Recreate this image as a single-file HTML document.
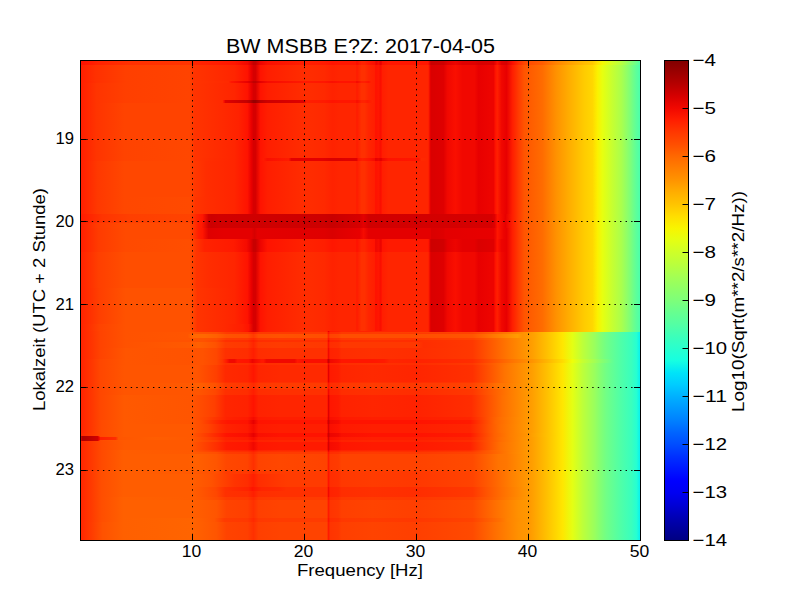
<!DOCTYPE html>
<html><head><meta charset="utf-8"><style>
html,body{margin:0;padding:0;background:#fff;width:800px;height:600px;overflow:hidden;position:relative;}
svg{display:block;position:absolute;left:0;top:0;}
#sp{position:absolute;left:80px;top:60px;width:560px;height:480px;overflow:hidden;}
#sp div{position:absolute;left:0;width:560px;}
text{font-family:"Liberation Sans",sans-serif;font-size:16.7px;fill:#000;}
</style></head><body>
<div id="sp">
<div style="top:0px;height:5px;background:linear-gradient(90deg,#ff1300 0.5px,#ff1300 4.5px,#ff2200 17.5px,#ff3000 49.5px,#ff3400 109.5px,#ff2500 113.5px,#ff1600 154.5px,#f10800 167.5px,#d60000 171.5px,#c40000 173.5px,#c40000 175.5px,#ed0400 180.5px,#fa0f00 187.5px,#ff1e00 225.5px,#ff1a00 244.5px,#ff1300 252.5px,#ff1600 259.5px,#ff1600 275.5px,#fa0f00 276.5px,#fa0f00 277.5px,#ff2200 281.5px,#ff2200 284.5px,#ff1600 288.5px,#fa0f00 294.5px,#f10800 295.5px,#ed0400 296.5px,#f60b00 298.5px,#e80000 300.5px,#ed0400 301.5px,#fa0f00 302.5px,#ff1600 308.5px,#ff1600 344.5px,#ff1600 347.5px,#fa0f00 348.5px,#d10000 350.5px,#c80000 351.5px,#cd0000 363.5px,#df0000 367.5px,#ed0400 375.5px,#df0000 382.5px,#df0000 394.5px,#d60000 398.5px,#da0000 410.5px,#da0000 413.5px,#ed0400 415.5px,#f60b00 416.5px,#fa0f00 417.5px,#df0000 421.5px,#d60000 426.5px,#fa0f00 432.5px,#ff2d00 438.5px,#ff4700 444.5px,#ff5d00 462.5px,#ff8200 476.0px,#ff9f00 489.5px,#ffbd00 504.5px,#ffc800 512.5px,#ffe200 517.5px,#f4f802 522.5px,#d4ff23 532.0px,#b7ff40 541.5px,#a4ff53 545.5px,#8dff6a 549.5px,#7aff7d 553.5px,#63ff94 557.5px,#53ffa4 559.5px)"></div>
<div style="top:5px;height:16px;background:linear-gradient(90deg,#ff1e00 0.5px,#ff3000 15.5px,#ff3f00 45.5px,#ff4300 109.5px,#ff3400 113.5px,#ff2500 154.5px,#ff1300 167.5px,#e80000 171.5px,#d60000 173.5px,#d60000 175.5px,#ff1300 180.5px,#ff1e00 187.5px,#ff2d00 225.5px,#ff2900 244.5px,#ff2200 252.5px,#ff2500 259.5px,#ff2500 275.5px,#ff1e00 276.5px,#ff1e00 277.5px,#ff3000 281.5px,#ff3000 284.5px,#ff2500 288.5px,#ff1e00 294.5px,#ff1300 295.5px,#ff1300 296.5px,#ff1600 298.5px,#fa0f00 300.5px,#ff1300 301.5px,#ff1e00 302.5px,#ff2500 308.5px,#ff2500 344.5px,#ff2500 347.5px,#ff1e00 348.5px,#e40000 350.5px,#da0000 351.5px,#df0000 363.5px,#f10800 367.5px,#fa0f00 375.5px,#f10800 382.5px,#f10800 394.5px,#e80000 398.5px,#ed0400 410.5px,#ed0400 413.5px,#ff1300 415.5px,#ff1a00 416.5px,#ff1e00 417.5px,#f10800 421.5px,#e80000 426.5px,#ff1e00 432.5px,#ff3b00 438.5px,#ff5500 444.5px,#ff6c00 462.5px,#ff9100 476.0px,#ffae00 489.5px,#ffcc00 504.5px,#ffd700 512.5px,#fbf100 517.5px,#e7ff0f 522.5px,#c7ff30 532.0px,#aaff4d 541.5px,#94ff63 546.0px,#7dff7a 550.5px,#63ff94 555.0px,#4dffaa 559.5px)"></div>
<div style="top:21px;height:2px;background:linear-gradient(90deg,#ff1e00 0.5px,#ff3000 16.5px,#ff3f00 46.5px,#ff4300 109.5px,#ff3400 113.5px,#ff2900 148.5px,#ff1600 151.5px,#e80000 167.5px,#d10000 171.5px,#bf0000 173.5px,#bf0000 175.5px,#e40000 180.5px,#f60b00 187.5px,#ff1a00 225.5px,#ff1600 244.5px,#fa0f00 252.5px,#ff1300 259.5px,#ff1300 275.5px,#f60b00 276.5px,#f60b00 277.5px,#ff1e00 281.5px,#ff1e00 284.5px,#ff1300 288.5px,#ff2200 291.5px,#ff1e00 294.5px,#ff1300 295.5px,#ff1300 296.5px,#ff1600 298.5px,#fa0f00 300.5px,#ff1300 301.5px,#ff1e00 302.5px,#ff2500 308.5px,#ff2500 344.5px,#ff2500 347.5px,#ff1e00 348.5px,#e40000 350.5px,#da0000 351.5px,#df0000 363.5px,#f10800 367.5px,#fa0f00 375.5px,#f10800 382.5px,#f10800 394.5px,#e80000 398.5px,#ed0400 410.5px,#ed0400 413.5px,#ff1300 415.5px,#ff1a00 416.5px,#ff1e00 417.5px,#f10800 421.5px,#e80000 426.5px,#ff1e00 432.5px,#ff3b00 438.5px,#ff5500 444.5px,#ff6c00 462.5px,#ff9100 476.0px,#ffae00 489.5px,#ffcc00 504.5px,#ffd700 512.5px,#fbf100 517.5px,#e7ff0f 522.5px,#c7ff30 532.0px,#aaff4d 541.5px,#94ff63 546.0px,#7dff7a 550.5px,#63ff94 555.0px,#4dffaa 559.5px)"></div>
<div style="top:23px;height:17px;background:linear-gradient(90deg,#ff1e00 0.5px,#ff3400 16.5px,#ff3f00 45.5px,#ff4300 109.5px,#ff3400 113.5px,#ff2500 154.5px,#ff1300 167.5px,#e80000 171.5px,#d60000 173.5px,#d60000 175.5px,#ff1300 180.5px,#ff1e00 187.5px,#ff2d00 225.5px,#ff2900 244.5px,#ff2200 252.5px,#ff2500 259.5px,#ff2500 275.5px,#ff1e00 276.5px,#ff1e00 277.5px,#ff3000 281.5px,#ff3000 284.5px,#ff2500 288.5px,#ff1e00 294.5px,#ff1300 295.5px,#ff1300 296.5px,#ff1600 298.5px,#fa0f00 300.5px,#ff1300 301.5px,#ff1e00 302.5px,#ff2500 308.5px,#ff2500 344.5px,#ff2500 347.5px,#ff1e00 348.5px,#e40000 350.5px,#da0000 351.5px,#df0000 363.5px,#f10800 367.5px,#fa0f00 375.5px,#f10800 382.5px,#f10800 394.5px,#e80000 398.5px,#ed0400 410.5px,#ed0400 413.5px,#ff1300 415.5px,#ff1a00 416.5px,#ff1e00 417.5px,#f10800 421.5px,#e80000 426.5px,#ff1e00 432.5px,#ff3b00 438.5px,#ff5500 444.5px,#ff6c00 462.5px,#ff9100 476.0px,#ffae00 489.5px,#ffcc00 504.5px,#ffd700 512.5px,#fbf100 517.5px,#e7ff0f 522.5px,#c7ff30 532.0px,#aaff4d 541.5px,#94ff63 546.0px,#7dff7a 550.5px,#63ff94 555.0px,#4dffaa 559.5px)"></div>
<div style="top:40px;height:3px;background:linear-gradient(90deg,#ff1e00 0.5px,#ff3400 16.5px,#ff3f00 45.5px,#ff4300 109.5px,#ff3400 114.5px,#ff2900 142.5px,#fa0f00 144.0px,#df0000 145.5px,#c40000 166.5px,#b20000 170.5px,#960000 173.5px,#960000 175.5px,#bb0000 180.5px,#cd0000 187.5px,#df0000 223.5px,#ff1e00 226.5px,#ff1a00 244.5px,#ff1300 252.5px,#ff1600 259.5px,#ff1600 275.5px,#fa0f00 276.5px,#fa0f00 277.5px,#ff2200 281.5px,#ff2200 284.5px,#ff1a00 287.5px,#ff2200 292.5px,#ff1e00 294.5px,#ff1300 295.5px,#ff1300 296.5px,#ff1600 298.5px,#fa0f00 300.5px,#ff1300 301.5px,#ff1e00 302.5px,#ff2500 308.5px,#ff2500 344.5px,#ff2500 347.5px,#ff1e00 348.5px,#e40000 350.5px,#da0000 351.5px,#df0000 363.5px,#f10800 367.5px,#fa0f00 375.5px,#f10800 382.5px,#f10800 394.5px,#e80000 398.5px,#ed0400 410.5px,#ed0400 413.5px,#ff1300 415.5px,#ff1a00 416.5px,#ff1e00 417.5px,#f10800 421.5px,#e80000 426.5px,#ff1e00 432.5px,#ff3b00 438.5px,#ff5500 444.5px,#ff6c00 462.5px,#ff9100 476.0px,#ffae00 489.5px,#ffcc00 504.5px,#ffd700 512.5px,#fbf100 517.5px,#e7ff0f 522.5px,#c7ff30 532.0px,#aaff4d 541.5px,#94ff63 546.0px,#7dff7a 550.5px,#63ff94 555.0px,#4dffaa 559.5px)"></div>
<div style="top:43px;height:36px;background:linear-gradient(90deg,#ff1e00 0.5px,#ff3400 16.5px,#ff4300 44.5px,#ff4300 109.5px,#ff3400 114.5px,#ff2900 143.5px,#ff2200 158.5px,#ff1300 167.5px,#e80000 171.5px,#d60000 173.5px,#d60000 175.5px,#ff1300 180.5px,#ff1e00 187.5px,#ff2d00 225.5px,#ff2900 244.5px,#ff2200 252.5px,#ff2500 259.5px,#ff2500 275.5px,#ff1e00 276.5px,#ff1e00 277.5px,#ff3000 281.5px,#ff3000 284.5px,#ff2500 288.5px,#ff1e00 294.5px,#ff1300 295.5px,#ff1300 296.5px,#ff1600 298.5px,#fa0f00 300.5px,#ff1300 301.5px,#ff1e00 302.5px,#ff2500 308.5px,#ff2500 344.5px,#ff2500 347.5px,#ff1e00 348.5px,#e40000 350.5px,#da0000 351.5px,#df0000 363.5px,#f10800 367.5px,#fa0f00 375.5px,#f10800 382.5px,#f10800 394.5px,#e80000 398.5px,#ed0400 410.5px,#ed0400 413.5px,#ff1300 415.5px,#ff1a00 416.5px,#ff1e00 417.5px,#f10800 421.5px,#e80000 426.5px,#ff1e00 432.5px,#ff3b00 438.5px,#ff5500 444.5px,#ff6c00 462.5px,#ff9100 476.0px,#ffae00 489.5px,#ffcc00 504.5px,#ffd700 512.5px,#fbf100 517.5px,#e7ff0f 522.5px,#c7ff30 532.0px,#aaff4d 541.5px,#94ff63 546.0px,#7dff7a 550.5px,#63ff94 555.0px,#4dffaa 559.5px)"></div>
<div style="top:79px;height:19px;background:linear-gradient(90deg,#ff1e00 0.5px,#ff3400 16.5px,#ff4300 44.5px,#ff4700 109.5px,#ff3400 114.5px,#ff2d00 132.5px,#ff2500 154.5px,#ff1300 167.5px,#e80000 171.5px,#d60000 173.5px,#d60000 175.5px,#ff1300 180.5px,#ff1e00 187.5px,#ff2d00 225.5px,#ff2900 244.5px,#ff2200 252.5px,#ff2500 259.5px,#ff2500 275.5px,#ff1e00 276.5px,#ff1e00 277.5px,#ff3000 281.5px,#ff3000 284.5px,#ff2500 288.5px,#ff1e00 294.5px,#ff1300 295.5px,#ff1300 296.5px,#ff1600 298.5px,#fa0f00 300.5px,#ff1300 301.5px,#ff1e00 302.5px,#ff2500 308.5px,#ff2500 344.5px,#ff2500 347.5px,#ff1e00 348.5px,#e40000 350.5px,#da0000 351.5px,#df0000 363.5px,#f10800 367.5px,#fa0f00 375.5px,#f10800 382.5px,#f10800 394.5px,#e80000 398.5px,#ed0400 410.5px,#ed0400 413.5px,#ff1300 415.5px,#ff1a00 416.5px,#ff1e00 417.5px,#f10800 421.5px,#e80000 426.5px,#ff1e00 432.5px,#ff3b00 438.5px,#ff5500 444.5px,#ff6c00 462.5px,#ff9100 476.0px,#ffae00 489.5px,#ffcc00 504.5px,#ffd700 512.5px,#fbf100 517.5px,#e7ff0f 522.5px,#c7ff30 532.0px,#aaff4d 541.5px,#94ff63 546.0px,#7dff7a 550.5px,#63ff94 555.0px,#4dffaa 559.5px)"></div>
<div style="top:98px;height:3px;background:linear-gradient(90deg,#ff1e00 0.5px,#ff3400 16.5px,#ff4300 44.5px,#ff4700 109.5px,#ff3400 114.5px,#ff2d00 129.5px,#ff2500 154.5px,#ff1300 167.5px,#e80000 171.5px,#d60000 173.5px,#d60000 175.5px,#ff1300 180.5px,#ff1a00 183.5px,#fa0f00 187.5px,#ff1a00 208.5px,#e40000 211.5px,#e40000 242.5px,#da0000 250.5px,#da0000 258.5px,#df0000 265.5px,#df0000 276.5px,#ff1300 278.5px,#ff1e00 282.5px,#ff1300 289.5px,#f60b00 294.5px,#e80000 295.5px,#e80000 296.5px,#ed0400 298.5px,#e40000 300.5px,#e80000 301.5px,#f10800 302.5px,#ff1300 308.5px,#ff1600 338.5px,#ff2900 341.5px,#ff2500 347.5px,#ff1e00 348.5px,#e40000 350.5px,#da0000 351.5px,#df0000 363.5px,#f10800 367.5px,#fa0f00 375.5px,#f10800 382.5px,#f10800 394.5px,#e80000 398.5px,#ed0400 410.5px,#ed0400 413.5px,#ff1300 415.5px,#ff1a00 416.5px,#ff1e00 417.5px,#f10800 421.5px,#e80000 426.5px,#ff1e00 432.5px,#ff3b00 438.5px,#ff5500 444.5px,#ff6c00 462.5px,#ff9100 476.0px,#ffae00 489.5px,#ffcc00 504.5px,#ffd700 512.5px,#fbf100 517.5px,#e7ff0f 522.5px,#c7ff30 532.0px,#aaff4d 541.5px,#94ff63 546.0px,#7dff7a 550.5px,#63ff94 555.0px,#4dffaa 559.5px)"></div>
<div style="top:101px;height:36px;background:linear-gradient(90deg,#ff1e00 0.5px,#ff3800 17.5px,#ff4700 44.5px,#ff4700 109.5px,#ff3800 114.5px,#ff2d00 126.5px,#ff2500 154.5px,#ff1300 167.5px,#e80000 171.5px,#d60000 173.5px,#d60000 175.5px,#ff1300 180.5px,#ff1e00 187.5px,#ff2d00 225.5px,#ff2900 244.5px,#ff2200 252.5px,#ff2500 259.5px,#ff2500 275.5px,#ff1e00 276.5px,#ff1e00 277.5px,#ff3000 281.5px,#ff3000 284.5px,#ff2500 288.5px,#ff1e00 294.5px,#ff1300 295.5px,#ff1300 296.5px,#ff1600 298.5px,#fa0f00 300.5px,#ff1300 301.5px,#ff1e00 302.5px,#ff2500 308.5px,#ff2500 344.5px,#ff2500 347.5px,#ff1e00 348.5px,#e40000 350.5px,#da0000 351.5px,#df0000 363.5px,#f10800 367.5px,#fa0f00 375.5px,#f10800 382.5px,#f10800 394.5px,#e80000 398.5px,#ed0400 410.5px,#ed0400 413.5px,#ff1300 415.5px,#ff1a00 416.5px,#ff1e00 417.5px,#f10800 421.5px,#e80000 426.5px,#ff1e00 432.5px,#ff3b00 438.5px,#ff5500 444.5px,#ff6c00 462.5px,#ff9100 476.0px,#ffae00 489.5px,#ffcc00 504.5px,#ffd700 512.5px,#fbf100 517.5px,#e7ff0f 522.5px,#c7ff30 532.0px,#aaff4d 541.5px,#94ff63 546.0px,#7dff7a 550.5px,#63ff94 555.0px,#4dffaa 559.5px)"></div>
<div style="top:137px;height:17px;background:linear-gradient(90deg,#ff1e00 0.5px,#ff3800 17.5px,#ff4700 44.5px,#ff4a00 109.5px,#ff3400 115.5px,#ff2d00 127.5px,#ff2500 154.5px,#ff1300 167.5px,#e80000 171.5px,#d60000 173.5px,#d60000 175.5px,#ff1300 180.5px,#ff1e00 187.5px,#ff2d00 225.5px,#ff2900 244.5px,#ff2200 252.5px,#ff2500 259.5px,#ff2500 275.5px,#ff1e00 276.5px,#ff1e00 277.5px,#ff3000 281.5px,#ff3000 284.5px,#ff2500 288.5px,#ff1e00 294.5px,#ff1300 295.5px,#ff1300 296.5px,#ff1600 298.5px,#fa0f00 300.5px,#ff1300 301.5px,#ff1e00 302.5px,#ff2500 308.5px,#ff2500 344.5px,#ff2500 347.5px,#ff1e00 348.5px,#e40000 350.5px,#da0000 351.5px,#df0000 363.5px,#f10800 367.5px,#fa0f00 375.5px,#f10800 382.5px,#f10800 394.5px,#e80000 398.5px,#ed0400 410.5px,#ed0400 413.5px,#ff1300 415.5px,#ff1a00 416.5px,#ff1e00 417.5px,#f10800 421.5px,#e80000 426.5px,#ff1e00 432.5px,#ff3b00 438.5px,#ff5500 444.5px,#ff6c00 462.5px,#ff9100 476.0px,#ffae00 489.5px,#ffcc00 504.5px,#ffd700 512.5px,#fbf100 517.5px,#e7ff0f 522.5px,#c7ff30 532.0px,#aaff4d 541.5px,#94ff63 546.0px,#7dff7a 550.5px,#63ff94 555.0px,#4dffaa 559.5px)"></div>
<div style="top:154px;height:9px;background:linear-gradient(90deg,#ff1a00 0.5px,#ff3400 22.5px,#ff3f00 50.5px,#ff4300 109.5px,#ff2500 116.5px,#ff1600 122.5px,#d10000 128.5px,#cd0000 131.5px,#d10000 138.5px,#cd0000 244.5px,#c80000 252.5px,#cd0000 259.5px,#d60000 279.5px,#e40000 283.5px,#d10000 288.5px,#d60000 411.5px,#df0000 414.5px,#ff1300 417.5px,#e80000 425.5px,#ff1e00 432.5px,#ff3b00 438.5px,#ff5500 444.5px,#ff6c00 462.5px,#ff9100 476.0px,#ffae00 489.5px,#ffcc00 504.5px,#ffd700 512.5px,#fbf100 517.5px,#e7ff0f 522.5px,#c7ff30 532.0px,#aaff4d 541.5px,#94ff63 546.0px,#7dff7a 550.5px,#63ff94 555.0px,#4dffaa 559.5px)"></div>
<div style="top:163px;height:5px;background:linear-gradient(90deg,#ff1e00 0.5px,#ff3b00 17.5px,#ff4a00 44.5px,#ff4a00 109.5px,#ff1e00 118.5px,#ff1a00 121.5px,#d10000 128.5px,#cd0000 131.5px,#d10000 138.5px,#cd0000 244.5px,#c80000 252.5px,#cd0000 259.5px,#d60000 279.5px,#e40000 283.5px,#d10000 288.5px,#d60000 411.5px,#df0000 414.5px,#ff1300 417.5px,#e80000 425.5px,#ff1e00 432.5px,#ff3b00 438.5px,#ff5500 444.5px,#ff6c00 462.5px,#ff9100 476.0px,#ffae00 489.5px,#ffcc00 504.5px,#ffd700 512.5px,#fbf100 517.5px,#e7ff0f 522.5px,#c7ff30 532.0px,#aaff4d 541.5px,#94ff63 546.0px,#7dff7a 550.5px,#63ff94 555.0px,#4dffaa 559.5px)"></div>
<div style="top:168px;height:11px;background:linear-gradient(90deg,#ff1e00 0.5px,#ff3b00 18.5px,#ff4a00 45.5px,#ff4a00 109.5px,#ff3000 114.5px,#ff1e00 118.5px,#ff1600 122.5px,#df0000 128.5px,#e40000 143.5px,#e40000 171.5px,#d60000 174.5px,#e40000 177.5px,#df0000 244.5px,#da0000 252.5px,#df0000 259.5px,#e80000 279.5px,#f60b00 283.5px,#e40000 288.5px,#e40000 350.5px,#da0000 351.5px,#df0000 363.5px,#e40000 365.5px,#e80000 413.5px,#f10800 415.5px,#ff1600 417.5px,#ed0400 423.5px,#e80000 426.5px,#ff1e00 432.5px,#ff3b00 438.5px,#ff5500 444.5px,#ff6c00 462.5px,#ff9100 476.0px,#ffae00 489.5px,#ffcc00 504.5px,#ffd700 512.5px,#fbf100 517.5px,#e7ff0f 522.5px,#c7ff30 532.0px,#aaff4d 541.5px,#94ff63 546.0px,#7dff7a 550.5px,#63ff94 555.0px,#4dffaa 559.5px)"></div>
<div style="top:179px;height:13px;background:linear-gradient(90deg,#ff1e00 0.5px,#ff3b00 18.5px,#ff4a00 45.5px,#ff4e00 109.5px,#ff3400 116.5px,#ff2200 124.5px,#ff1a00 153.5px,#f60b00 166.5px,#e40000 170.5px,#c80000 173.5px,#c80000 175.5px,#ed0400 180.5px,#ff1300 187.5px,#ff2200 225.5px,#ff1e00 244.5px,#ff1600 252.5px,#ff1a00 259.5px,#ff1a00 275.5px,#ff1300 276.5px,#ff1300 277.5px,#ff2500 281.5px,#ff2500 284.5px,#ff1a00 288.5px,#ff1300 294.5px,#f10800 295.5px,#f10800 296.5px,#f60b00 298.5px,#ed0400 300.5px,#f10800 301.5px,#ff1300 302.5px,#ff1a00 308.5px,#ff1a00 344.5px,#ff1a00 347.5px,#ff1300 348.5px,#d60000 350.5px,#cd0000 351.5px,#d10000 363.5px,#e40000 367.5px,#ed0400 375.5px,#e40000 382.5px,#e40000 394.5px,#da0000 398.5px,#df0000 410.5px,#df0000 413.5px,#f10800 415.5px,#fa0f00 416.5px,#ff1300 417.5px,#ed0400 421.5px,#e80000 426.5px,#ff1e00 432.5px,#ff3b00 438.5px,#ff5500 444.5px,#ff6c00 462.5px,#ff9100 476.0px,#ffae00 489.5px,#ffcc00 504.5px,#ffd700 512.5px,#fbf100 517.5px,#e7ff0f 522.5px,#c7ff30 532.0px,#aaff4d 541.5px,#94ff63 546.0px,#7dff7a 550.5px,#63ff94 555.0px,#4dffaa 559.5px)"></div>
<div style="top:192px;height:36px;background:linear-gradient(90deg,#ff2200 0.5px,#ff3f00 18.5px,#ff4e00 45.5px,#ff4e00 109.5px,#ff3400 116.5px,#ff2d00 128.5px,#ff2500 154.5px,#ff1300 167.5px,#e80000 171.5px,#d60000 173.5px,#d60000 175.5px,#ff1300 180.5px,#ff1e00 187.5px,#ff2d00 225.5px,#ff2900 244.5px,#ff2200 252.5px,#ff2500 259.5px,#ff2500 275.5px,#ff1e00 276.5px,#ff1e00 277.5px,#ff3000 281.5px,#ff3000 284.5px,#ff2500 288.5px,#ff1e00 294.5px,#ff1300 295.5px,#ff1300 296.5px,#ff1600 298.5px,#fa0f00 300.5px,#ff1300 301.5px,#ff1e00 302.5px,#ff2500 308.5px,#ff2500 344.5px,#ff2500 347.5px,#ff1e00 348.5px,#e40000 350.5px,#da0000 351.5px,#df0000 363.5px,#f10800 367.5px,#fa0f00 375.5px,#f10800 382.5px,#f10800 394.5px,#e80000 398.5px,#ed0400 410.5px,#ed0400 413.5px,#ff1300 415.5px,#ff1a00 416.5px,#ff1e00 417.5px,#f10800 421.5px,#e80000 426.5px,#ff1e00 432.5px,#ff3b00 438.5px,#ff5500 444.5px,#ff6c00 462.5px,#ff9100 476.0px,#ffae00 489.5px,#ffcc00 504.5px,#ffd700 512.5px,#fbf100 517.5px,#e7ff0f 522.5px,#c7ff30 532.0px,#aaff4d 541.5px,#94ff63 546.0px,#7dff7a 550.5px,#63ff94 555.0px,#4dffaa 559.5px)"></div>
<div style="top:228px;height:36px;background:linear-gradient(90deg,#ff2200 0.5px,#ff3f00 19.5px,#ff5200 45.5px,#ff5200 109.5px,#ff3400 117.5px,#ff2500 154.5px,#ff1300 167.5px,#e80000 171.5px,#d60000 173.5px,#d60000 175.5px,#ff1300 180.5px,#ff1e00 187.5px,#ff2d00 225.5px,#ff2900 244.5px,#ff2200 252.5px,#ff2500 259.5px,#ff2500 275.5px,#ff1e00 276.5px,#ff1e00 277.5px,#ff3000 281.5px,#ff3000 284.5px,#ff2500 288.5px,#ff1e00 294.5px,#ff1300 295.5px,#ff1300 296.5px,#ff1600 298.5px,#fa0f00 300.5px,#ff1300 301.5px,#ff1e00 302.5px,#ff2500 308.5px,#ff2500 344.5px,#ff2500 347.5px,#ff1e00 348.5px,#e40000 350.5px,#da0000 351.5px,#df0000 363.5px,#f10800 367.5px,#fa0f00 375.5px,#f10800 382.5px,#f10800 394.5px,#e80000 398.5px,#ed0400 410.5px,#ed0400 413.5px,#ff1300 415.5px,#ff1a00 416.5px,#ff1e00 417.5px,#f10800 421.5px,#e80000 426.5px,#ff1e00 432.5px,#ff3b00 438.5px,#ff5500 444.5px,#ff6c00 462.5px,#ff9100 476.0px,#ffae00 489.5px,#ffcc00 504.5px,#ffd700 512.5px,#fbf100 517.5px,#e7ff0f 522.5px,#c7ff30 532.0px,#aaff4d 541.5px,#94ff63 546.0px,#7dff7a 550.5px,#63ff94 555.0px,#4dffaa 559.5px)"></div>
<div style="top:264px;height:7px;background:linear-gradient(90deg,#ff2200 0.5px,#ff4300 19.5px,#ff5200 45.5px,#ff5200 109.5px,#ff3400 117.5px,#ff2900 144.5px,#ff1e00 162.5px,#ff1300 168.5px,#d60000 173.5px,#d60000 175.5px,#ff1300 180.5px,#ff1e00 187.5px,#ff2d00 225.5px,#ff2900 244.5px,#ff2200 252.5px,#ff2500 259.5px,#ff2500 275.5px,#ff1e00 276.5px,#ff1e00 277.5px,#ff3000 281.5px,#ff3000 284.5px,#ff2500 288.5px,#ff1e00 294.5px,#ff1300 295.5px,#ff1300 296.5px,#ff1600 298.5px,#fa0f00 300.5px,#ff1300 301.5px,#ff1e00 302.5px,#ff2500 308.5px,#ff2500 344.5px,#ff2500 347.5px,#ff1e00 348.5px,#e40000 350.5px,#da0000 351.5px,#df0000 363.5px,#f10800 367.5px,#fa0f00 375.5px,#f10800 382.5px,#f10800 394.5px,#e80000 398.5px,#ed0400 410.5px,#ed0400 413.5px,#ff1300 415.5px,#ff1a00 416.5px,#ff1e00 417.5px,#f10800 421.5px,#e80000 426.5px,#ff1e00 432.5px,#ff3b00 438.5px,#ff5500 444.5px,#ff6c00 462.5px,#ff9100 476.0px,#ffae00 489.5px,#ffcc00 504.5px,#ffd700 512.5px,#fbf100 517.5px,#e7ff0f 522.5px,#c7ff30 532.0px,#aaff4d 541.5px,#94ff63 546.0px,#7dff7a 550.5px,#63ff94 555.0px,#4dffaa 559.5px)"></div>
<div style="top:271px;height:1px;background:linear-gradient(90deg,#ff2200 0.5px,#ff4300 20.5px,#ff5200 45.5px,#ff5200 109.5px,#ff3400 117.5px,#ff2900 143.5px,#ff2200 158.5px,#ff1300 167.5px,#e80000 171.5px,#d60000 173.5px,#d60000 175.5px,#ff1300 180.5px,#ff1e00 187.5px,#ff2d00 225.5px,#ff2900 246.5px,#ff1a00 247.5px,#e80000 248.5px,#fa0f00 249.5px,#ff1a00 250.5px,#ff1e00 258.5px,#ff2500 261.5px,#ff2200 289.5px,#ff2500 307.5px,#ff2500 344.5px,#ff2500 347.5px,#ff1e00 348.5px,#e40000 350.5px,#da0000 351.5px,#df0000 363.5px,#f10800 367.5px,#fa0f00 375.5px,#f10800 382.5px,#f10800 394.5px,#e80000 398.5px,#ed0400 410.5px,#ed0400 413.5px,#ff1300 415.5px,#ff1a00 416.5px,#ff1e00 417.5px,#f10800 421.5px,#e80000 426.5px,#ff1e00 432.5px,#ff3b00 438.5px,#ff5500 444.5px,#ff6c00 462.5px,#ff9100 476.0px,#ffae00 489.5px,#ffcc00 504.5px,#ffd700 512.5px,#fbf100 517.5px,#e7ff0f 522.5px,#c7ff30 532.0px,#aaff4d 541.5px,#94ff63 546.0px,#7dff7a 550.5px,#63ff94 555.0px,#4dffaa 559.5px)"></div>
<div style="top:272px;height:1px;background:linear-gradient(90deg,#ff2200 0.5px,#ff4300 20.5px,#ff5200 45.5px,#ff5500 115.5px,#ff4e00 136.5px,#ff3b00 146.5px,#ff3800 167.5px,#ff2900 173.5px,#ff3800 178.5px,#ff3b00 200.5px,#ff3b00 246.5px,#ff2d00 247.5px,#ff1300 248.5px,#ff2200 249.5px,#ff2d00 250.5px,#ff3000 258.5px,#ff3800 261.5px,#ff3b00 292.5px,#ff4300 389.5px,#ff6f00 420.5px,#ff8600 436.5px,#ff9f00 452.5px,#ffc100 467.5px,#ffe600 482.5px,#e4ff13 492.5px,#beff39 502.5px,#9aff5d 514.5px,#83ff73 520.5px,#70ff87 526.5px,#53ffa4 539.0px,#39ffbe 551.5px,#26ffd1 556.5px,#0cf4eb 559.5px)"></div>
<div style="top:273px;height:1px;background:linear-gradient(90deg,#ff2200 0.5px,#ff4300 20.5px,#ff5200 45.5px,#ff5500 115.5px,#ff4e00 136.5px,#ff3b00 146.5px,#ff3800 167.5px,#ff2900 173.5px,#ff3800 178.5px,#ff3b00 200.5px,#ff3b00 246.5px,#ff2d00 247.5px,#ff1300 248.5px,#ff2200 249.5px,#ff2d00 250.5px,#ff3000 258.5px,#ff3800 261.5px,#ff3b00 292.5px,#ff3800 337.5px,#ff4300 392.5px,#ff6000 412.5px,#ff8200 432.5px,#ff9f00 452.5px,#ffc100 467.5px,#ffe600 482.5px,#e4ff13 492.5px,#beff39 502.5px,#9aff5d 514.5px,#83ff73 520.5px,#70ff87 526.5px,#53ffa4 539.0px,#39ffbe 551.5px,#26ffd1 556.5px,#0cf4eb 559.5px)"></div>
<div style="top:274px;height:4px;background:linear-gradient(90deg,#ff2200 0.5px,#ff4300 20.5px,#ff5200 45.5px,#ff5500 107.5px,#ff6800 113.5px,#ff6800 124.5px,#ff6000 136.5px,#ff5200 146.5px,#ff4e00 167.5px,#ff3b00 173.5px,#ff4e00 178.5px,#ff5200 200.5px,#ff4e00 246.5px,#ff3f00 247.5px,#ff2500 248.5px,#ff3800 249.5px,#ff4300 250.5px,#ff4700 258.5px,#ff4e00 261.5px,#ff4e00 292.5px,#ff4e00 337.5px,#ff5500 392.5px,#ff7a00 415.0px,#ff9c00 437.5px,#ff9100 442.5px,#ffa300 454.5px,#ffc400 468.5px,#ffe600 482.5px,#e4ff13 492.5px,#beff39 502.5px,#9aff5d 514.5px,#83ff73 520.5px,#70ff87 526.5px,#53ffa4 539.0px,#39ffbe 551.5px,#26ffd1 556.5px,#0cf4eb 559.5px)"></div>
<div style="top:278px;height:2px;background:linear-gradient(90deg,#ff2200 0.5px,#ff4300 20.5px,#ff5200 45.5px,#ff5500 116.5px,#ff4e00 136.5px,#ff3b00 146.5px,#ff3800 167.5px,#ff2900 173.5px,#ff3800 178.5px,#ff3b00 200.5px,#ff3b00 246.5px,#ff2d00 247.5px,#ff1300 248.5px,#ff2200 249.5px,#ff2d00 250.5px,#ff3000 258.5px,#ff3800 261.5px,#ff3b00 292.5px,#ff3800 337.5px,#ff4300 392.5px,#ff6000 412.5px,#ff8200 432.5px,#ff9f00 452.5px,#ffc100 467.5px,#ffe600 482.5px,#e4ff13 492.5px,#beff39 502.5px,#9aff5d 514.5px,#83ff73 520.5px,#70ff87 526.5px,#53ffa4 539.0px,#39ffbe 551.5px,#26ffd1 556.5px,#0cf4eb 559.5px)"></div>
<div style="top:280px;height:2px;background:linear-gradient(90deg,#ff2200 0.5px,#ff4300 20.5px,#ff5200 45.5px,#ff5200 122.5px,#ff4700 136.5px,#ff3000 145.5px,#ff2d00 167.5px,#ff1e00 173.5px,#ff2d00 178.5px,#ff3000 200.5px,#ff3000 246.5px,#ff2200 247.5px,#f10800 248.5px,#ff1600 249.5px,#ff2200 250.5px,#ff2500 258.5px,#ff2d00 261.5px,#ff3000 292.5px,#ff2d00 337.5px,#ff3800 392.5px,#ff5900 411.0px,#ff7a00 429.5px,#ff9f00 452.5px,#ffc100 467.5px,#ffe600 482.5px,#e4ff13 492.5px,#beff39 502.5px,#9aff5d 514.5px,#83ff73 520.5px,#70ff87 526.5px,#53ffa4 539.0px,#39ffbe 551.5px,#26ffd1 556.5px,#0cf4eb 559.5px)"></div>
<div style="top:282px;height:6px;background:linear-gradient(90deg,#ff2200 0.5px,#ff4300 20.5px,#ff5200 45.5px,#ff5900 109.5px,#ff6000 118.5px,#ff5200 135.5px,#ff3b00 145.5px,#ff3800 167.5px,#ff2500 173.5px,#ff3800 178.5px,#ff3b00 200.5px,#ff3800 246.5px,#ff2900 247.5px,#fa0f00 248.5px,#ff2200 249.5px,#ff2d00 250.5px,#ff3000 258.5px,#ff3800 261.5px,#ff3800 292.5px,#ff3800 336.5px,#ff2d00 343.5px,#ff3800 392.5px,#ff5900 411.0px,#ff7a00 429.5px,#ff9f00 452.5px,#ffc100 467.5px,#ffe600 482.5px,#e4ff13 492.5px,#beff39 502.5px,#9aff5d 514.5px,#83ff73 520.5px,#70ff87 526.5px,#53ffa4 539.0px,#39ffbe 551.5px,#26ffd1 556.5px,#0cf4eb 559.5px)"></div>
<div style="top:288px;height:11px;background:linear-gradient(90deg,#ff2200 0.5px,#ff4300 20.5px,#ff5500 45.5px,#ff5200 122.5px,#ff4700 136.5px,#ff3000 145.5px,#ff2d00 167.5px,#ff1e00 173.5px,#ff2d00 178.5px,#ff3000 200.5px,#ff3000 246.5px,#ff2200 247.5px,#f10800 248.5px,#ff1600 249.5px,#ff2200 250.5px,#ff2500 258.5px,#ff2d00 261.5px,#ff3000 292.5px,#ff2d00 337.5px,#ff3800 392.5px,#ff5900 411.0px,#ff7a00 429.5px,#ff9f00 452.5px,#ffc100 467.5px,#ffe600 482.5px,#e4ff13 492.5px,#beff39 502.5px,#9aff5d 514.5px,#83ff73 520.5px,#70ff87 526.5px,#53ffa4 539.0px,#39ffbe 551.5px,#26ffd1 556.5px,#0cf4eb 559.5px)"></div>
<div style="top:299px;height:4px;background:linear-gradient(90deg,#ff2200 0.5px,#ff4700 20.5px,#ff5500 45.5px,#ff5200 122.5px,#ff4700 136.5px,#ff3400 142.5px,#ff1a00 146.5px,#f10800 149.5px,#f10800 154.5px,#ff1600 157.5px,#ff1300 168.5px,#ed0400 172.5px,#f60b00 175.5px,#ff1600 181.5px,#ff1600 183.5px,#f10800 186.5px,#f10800 214.5px,#ff1600 217.5px,#fa0f00 223.5px,#fa0f00 246.5px,#e80000 247.5px,#c80000 248.5px,#f10800 250.5px,#fa0f00 258.5px,#ff1600 261.5px,#ff1600 292.5px,#ff1a00 304.5px,#ff2500 309.5px,#ff2200 337.5px,#ff2d00 392.5px,#ff4e00 411.0px,#ff6f00 429.5px,#ff9400 452.5px,#ffb600 467.5px,#ffdb00 482.5px,#eeff09 492.5px,#c7ff30 502.5px,#a4ff53 514.5px,#8dff6a 520.5px,#7aff7d 526.5px,#5dff9a 534.5px,#39ffbe 551.5px,#26ffd1 556.5px,#0cf4eb 559.5px)"></div>
<div style="top:303px;height:2px;background:linear-gradient(90deg,#ff2200 0.5px,#ff4700 20.5px,#ff5500 45.5px,#ff5200 122.5px,#ff4700 136.5px,#ff3000 145.5px,#ff2d00 167.5px,#ff1e00 173.5px,#ff2d00 178.5px,#ff3000 200.5px,#ff3000 246.5px,#ff2200 247.5px,#f10800 248.5px,#ff1600 249.5px,#ff2200 250.5px,#ff2500 258.5px,#ff2d00 261.5px,#ff3000 292.5px,#ff2d00 337.5px,#ff3800 392.5px,#ff5900 411.0px,#ff7a00 429.5px,#ff9f00 452.5px,#ffc100 467.5px,#ffe600 482.5px,#e4ff13 492.5px,#beff39 502.5px,#9aff5d 514.5px,#83ff73 520.5px,#70ff87 526.5px,#53ffa4 539.0px,#39ffbe 551.5px,#26ffd1 556.5px,#0cf4eb 559.5px)"></div>
<div style="top:305px;height:17px;background:linear-gradient(90deg,#ff2200 0.5px,#ff4700 20.5px,#ff5500 44.5px,#ff5500 116.5px,#ff3f00 136.5px,#ff2900 145.5px,#ff2500 167.5px,#ff1600 173.5px,#ff2500 178.5px,#ff2900 200.5px,#ff2900 246.5px,#ff1a00 247.5px,#e40000 248.5px,#fa0f00 249.5px,#ff1a00 250.5px,#ff1e00 258.5px,#ff2500 261.5px,#ff2900 292.5px,#ff2500 337.5px,#ff3000 392.5px,#ff5500 410.5px,#ff7300 424.5px,#ff9f00 452.5px,#ffc100 467.5px,#ffe600 482.5px,#e4ff13 492.5px,#beff39 502.5px,#9aff5d 514.5px,#83ff73 520.5px,#70ff87 526.5px,#53ffa4 539.0px,#39ffbe 551.5px,#26ffd1 556.5px,#0cf4eb 559.5px)"></div>
<div style="top:322px;height:1px;background:linear-gradient(90deg,#ff2200 0.5px,#ff4700 20.5px,#ff5500 44.5px,#ff5500 119.5px,#ff4700 135.5px,#ff3000 145.5px,#ff2d00 167.5px,#ff1e00 173.5px,#ff2d00 178.5px,#ff3000 200.5px,#ff3000 246.5px,#ff2200 247.5px,#f10800 248.5px,#ff1600 249.5px,#ff2200 250.5px,#ff2500 258.5px,#ff2d00 261.5px,#ff3000 292.5px,#ff2d00 337.5px,#ff3800 392.5px,#ff5900 411.0px,#ff7a00 429.5px,#ff9f00 452.5px,#ffc100 467.5px,#ffe600 482.5px,#e4ff13 492.5px,#beff39 502.5px,#9aff5d 514.5px,#83ff73 520.5px,#70ff87 526.5px,#53ffa4 539.0px,#39ffbe 551.5px,#26ffd1 556.5px,#0cf4eb 559.5px)"></div>
<div style="top:323px;height:6px;background:linear-gradient(90deg,#ff2200 0.5px,#ff4700 20.5px,#ff5500 44.5px,#ff5900 108.5px,#ff6000 117.5px,#ff5200 135.5px,#ff3b00 145.5px,#ff3800 167.5px,#ff2900 173.5px,#ff3800 178.5px,#ff3b00 200.5px,#ff3b00 246.5px,#ff2d00 247.5px,#ff1300 248.5px,#ff2200 249.5px,#ff2d00 250.5px,#ff3000 258.5px,#ff3800 261.5px,#ff3b00 292.5px,#ff3800 337.5px,#ff4300 392.5px,#ff5900 405.5px,#ff7300 418.5px,#ff7700 425.5px,#ff9f00 452.5px,#ffc100 467.5px,#ffe600 482.5px,#e4ff13 492.5px,#beff39 502.5px,#9aff5d 514.5px,#83ff73 520.5px,#70ff87 526.5px,#53ffa4 539.0px,#39ffbe 551.5px,#26ffd1 556.5px,#0cf4eb 559.5px)"></div>
<div style="top:329px;height:6px;background:linear-gradient(90deg,#ff2200 0.5px,#ff4700 20.5px,#ff5500 44.5px,#ff5500 118.5px,#ff4700 135.5px,#ff3000 145.5px,#ff2d00 167.5px,#ff1e00 173.5px,#ff2d00 178.5px,#ff3000 200.5px,#ff3000 246.5px,#ff2200 247.5px,#f10800 248.5px,#ff1600 249.5px,#ff2200 250.5px,#ff2500 258.5px,#ff2d00 261.5px,#ff3000 292.5px,#ff2d00 337.5px,#ff3800 392.5px,#ff5900 411.0px,#ff7a00 429.5px,#ff9f00 452.5px,#ffc100 467.5px,#ffe600 482.5px,#e4ff13 492.5px,#beff39 502.5px,#9aff5d 514.5px,#83ff73 520.5px,#70ff87 526.5px,#53ffa4 539.0px,#39ffbe 551.5px,#26ffd1 556.5px,#0cf4eb 559.5px)"></div>
<div style="top:335px;height:22px;background:linear-gradient(90deg,#ff2200 0.5px,#ff4700 20.5px,#ff5900 44.5px,#ff5500 110.5px,#ff3f00 134.5px,#ff2500 145.5px,#ff2200 167.5px,#ff1300 173.5px,#ff2200 178.5px,#ff2500 200.5px,#ff2500 246.5px,#ff1600 247.5px,#df0000 248.5px,#f60b00 249.5px,#ff1600 250.5px,#ff1a00 258.5px,#ff2200 261.5px,#ff2500 292.5px,#ff2200 337.5px,#ff2d00 391.5px,#ff4e00 407.0px,#ff6f00 422.5px,#ff9f00 452.5px,#ffc100 467.5px,#ffe600 482.5px,#e4ff13 492.5px,#beff39 502.5px,#9aff5d 514.5px,#83ff73 520.5px,#70ff87 526.5px,#53ffa4 539.0px,#39ffbe 551.5px,#26ffd1 556.5px,#0cf4eb 559.5px)"></div>
<div style="top:357px;height:3px;background:linear-gradient(90deg,#ff2200 0.5px,#ff4700 20.5px,#ff5900 44.5px,#ff5500 110.5px,#ff4300 126.5px,#ff3000 138.5px,#ff2200 146.5px,#ff1a00 167.5px,#f60b00 173.5px,#ff1a00 178.5px,#ff1e00 200.5px,#ff1e00 246.5px,#fa0f00 247.5px,#da0000 248.5px,#f10800 249.5px,#fa0f00 250.5px,#ff1300 258.5px,#ff1a00 261.5px,#ff1e00 292.5px,#ff1e00 337.5px,#ff2500 390.5px,#ff3b00 400.2px,#ff5500 409.8px,#ff6c00 419.5px,#ff8600 436.0px,#ff9f00 452.5px,#ffc100 467.5px,#ffe600 482.5px,#e4ff13 492.5px,#beff39 502.5px,#9aff5d 514.5px,#83ff73 520.5px,#70ff87 526.5px,#53ffa4 539.0px,#39ffbe 551.5px,#26ffd1 556.5px,#0cf4eb 559.5px)"></div>
<div style="top:360px;height:4px;background:linear-gradient(90deg,#ff2200 0.5px,#ff4a00 21.5px,#ff5900 44.5px,#ff5500 110.5px,#ff4e00 119.5px,#ff1e00 141.5px,#ff1600 147.5px,#ff1300 167.5px,#e80000 173.5px,#ff1300 178.5px,#ff1600 200.5px,#ff1600 246.5px,#ed0400 247.5px,#cd0000 248.5px,#e40000 249.5px,#f10800 250.5px,#f60b00 258.5px,#ff1300 261.5px,#ff1300 292.5px,#ff1300 337.5px,#ff1a00 390.5px,#ff3b00 401.5px,#ff6400 415.5px,#ff8200 434.0px,#ff9f00 452.5px,#ffc100 467.5px,#ffe600 482.5px,#e4ff13 492.5px,#beff39 502.5px,#9aff5d 514.5px,#83ff73 520.5px,#70ff87 526.5px,#53ffa4 539.0px,#39ffbe 551.5px,#26ffd1 556.5px,#0cf4eb 559.5px)"></div>
<div style="top:364px;height:9px;background:linear-gradient(90deg,#ff2200 0.5px,#ff4a00 21.5px,#ff5900 44.5px,#ff5900 110.5px,#ff4300 128.5px,#ff2d00 139.5px,#ff2200 146.5px,#ff1a00 167.5px,#f60b00 173.5px,#ff1a00 178.5px,#ff1e00 200.5px,#ff1e00 246.5px,#fa0f00 247.5px,#da0000 248.5px,#f10800 249.5px,#fa0f00 250.5px,#ff1300 258.5px,#ff1a00 261.5px,#ff1e00 292.5px,#ff1e00 337.5px,#ff2500 390.5px,#ff3b00 400.2px,#ff5500 409.8px,#ff6c00 419.5px,#ff8600 436.0px,#ff9f00 452.5px,#ffc100 467.5px,#ffe600 482.5px,#e4ff13 492.5px,#beff39 502.5px,#9aff5d 514.5px,#83ff73 520.5px,#70ff87 526.5px,#53ffa4 539.0px,#39ffbe 551.5px,#26ffd1 556.5px,#0cf4eb 559.5px)"></div>
<div style="top:373px;height:3px;background:linear-gradient(90deg,#ff2500 0.5px,#ff4a00 21.5px,#ff5900 44.5px,#ff5900 109.5px,#ff4700 120.5px,#ff2200 139.5px,#ff1300 146.5px,#fa0f00 167.5px,#e80000 173.5px,#fa0f00 178.5px,#ff1300 200.5px,#ff1300 246.5px,#ed0400 247.5px,#cd0000 248.5px,#df0000 249.5px,#ed0400 250.5px,#f10800 258.5px,#fa0f00 261.5px,#ff1300 292.5px,#ff1300 337.5px,#ff1a00 390.5px,#ff3800 400.5px,#ff6000 414.5px,#ff7e00 430.5px,#ff9400 446.5px,#ffae00 458.5px,#ffc800 470.5px,#ffe600 482.5px,#e4ff13 492.5px,#beff39 502.5px,#9aff5d 514.5px,#83ff73 520.5px,#70ff87 526.5px,#53ffa4 539.0px,#39ffbe 551.5px,#26ffd1 556.5px,#0cf4eb 559.5px)"></div>
<div style="top:376px;height:1px;background:linear-gradient(90deg,#f10800 0.5px,#c80000 1.5px,#ad0000 2.5px,#b20000 5.5px,#cd0000 16.5px,#d10000 17.5px,#f10800 18.5px,#ff2d00 19.5px,#ff4700 20.5px,#ff4a00 23.5px,#ff5900 44.5px,#ff5900 109.5px,#ff4700 120.5px,#ff2200 139.5px,#ff1300 146.5px,#fa0f00 167.5px,#e80000 173.5px,#fa0f00 178.5px,#ff1300 200.5px,#ff1300 246.5px,#ed0400 247.5px,#cd0000 248.5px,#df0000 249.5px,#ed0400 250.5px,#f10800 258.5px,#fa0f00 261.5px,#ff1300 292.5px,#ff1300 337.5px,#ff1a00 390.5px,#ff3800 400.5px,#ff6000 414.5px,#ff7e00 430.5px,#ff9400 446.5px,#ffae00 458.5px,#ffc800 470.5px,#ffe600 482.5px,#e4ff13 492.5px,#beff39 502.5px,#9aff5d 514.5px,#83ff73 520.5px,#70ff87 526.5px,#53ffa4 539.0px,#39ffbe 551.5px,#26ffd1 556.5px,#0cf4eb 559.5px)"></div>
<div style="top:377px;height:3px;background:linear-gradient(90deg,#f10800 0.5px,#cd0000 1.5px,#ad0000 2.5px,#b20000 5.5px,#d10000 17.5px,#ed0400 19.0px,#ff1e00 20.5px,#ff2d00 35.5px,#ff5500 38.5px,#ff5d00 75.5px,#ff5900 111.5px,#ff3400 136.5px,#ff2200 145.5px,#ff1a00 167.5px,#f60b00 173.5px,#ff1a00 178.5px,#ff1e00 200.5px,#ff1e00 246.5px,#fa0f00 247.5px,#da0000 248.5px,#f10800 249.5px,#fa0f00 250.5px,#ff1300 258.5px,#ff1a00 261.5px,#ff1e00 292.5px,#ff1e00 337.5px,#ff2500 390.5px,#ff3b00 400.2px,#ff5500 409.8px,#ff6c00 419.5px,#ff8600 436.0px,#ff9f00 452.5px,#ffc100 467.5px,#ffe600 482.5px,#e4ff13 492.5px,#beff39 502.5px,#9aff5d 514.5px,#83ff73 520.5px,#70ff87 526.5px,#53ffa4 539.0px,#39ffbe 551.5px,#26ffd1 556.5px,#0cf4eb 559.5px)"></div>
<div style="top:380px;height:1px;background:linear-gradient(90deg,#f10800 0.5px,#cd0000 1.5px,#ad0000 2.5px,#b20000 5.5px,#cd0000 16.5px,#d10000 17.5px,#f10800 18.5px,#ff2d00 19.5px,#ff4700 20.5px,#ff4e00 23.5px,#ff5900 44.5px,#ff5900 110.5px,#ff3b00 136.5px,#ff2500 145.5px,#ff2200 167.5px,#ff1300 173.5px,#ff2200 178.5px,#ff2500 200.5px,#ff2500 246.5px,#ff1600 247.5px,#df0000 248.5px,#f60b00 249.5px,#ff1600 250.5px,#ff1a00 258.5px,#ff2200 261.5px,#ff2500 292.5px,#ff2200 337.5px,#ff2d00 391.5px,#ff4e00 407.0px,#ff6f00 422.5px,#ff9f00 452.5px,#ffc100 467.5px,#ffe600 482.5px,#e4ff13 492.5px,#beff39 502.5px,#9aff5d 514.5px,#83ff73 520.5px,#70ff87 526.5px,#53ffa4 539.0px,#39ffbe 551.5px,#26ffd1 556.5px,#0cf4eb 559.5px)"></div>
<div style="top:381px;height:1px;background:linear-gradient(90deg,#ff2500 0.5px,#ff4a00 21.5px,#ff5900 44.5px,#ff5900 110.5px,#ff3b00 136.5px,#ff2500 145.5px,#ff2200 167.5px,#ff1300 173.5px,#ff2200 178.5px,#ff2500 200.5px,#ff2500 246.5px,#ff1600 247.5px,#df0000 248.5px,#f60b00 249.5px,#ff1600 250.5px,#ff1a00 258.5px,#ff2200 261.5px,#ff2500 292.5px,#ff2200 337.5px,#ff2d00 391.5px,#ff4e00 407.0px,#ff6f00 422.5px,#ff9f00 452.5px,#ffc100 467.5px,#ffe600 482.5px,#e4ff13 492.5px,#beff39 502.5px,#9aff5d 514.5px,#83ff73 520.5px,#70ff87 526.5px,#53ffa4 539.0px,#39ffbe 551.5px,#26ffd1 556.5px,#0cf4eb 559.5px)"></div>
<div style="top:382px;height:8px;background:linear-gradient(90deg,#ff2500 0.5px,#ff4a00 21.5px,#ff5900 44.5px,#ff5900 109.5px,#ff2d00 137.5px,#ff1a00 146.5px,#ff1600 167.5px,#f10800 173.5px,#ff1600 178.5px,#ff1a00 200.5px,#ff1a00 246.5px,#f60b00 247.5px,#d60000 248.5px,#ed0400 249.5px,#f60b00 250.5px,#fa0f00 258.5px,#ff1600 261.5px,#ff1a00 292.5px,#ff1a00 337.5px,#ff2200 390.5px,#ff4700 404.5px,#ff6f00 420.5px,#ff8600 436.5px,#ff9f00 452.5px,#ffc100 467.5px,#ffe600 482.5px,#e4ff13 492.5px,#beff39 502.5px,#9aff5d 514.5px,#83ff73 520.5px,#70ff87 526.5px,#53ffa4 539.0px,#39ffbe 551.5px,#26ffd1 556.5px,#0cf4eb 559.5px)"></div>
<div style="top:390px;height:1px;background:linear-gradient(90deg,#ff2500 0.5px,#ff4a00 21.5px,#ff5d00 43.5px,#ff5900 109.5px,#ff3b00 132.5px,#ff2900 146.5px,#ff2200 167.5px,#ff1300 173.5px,#ff2200 178.5px,#ff2900 200.5px,#ff2500 246.5px,#ff1600 247.5px,#e40000 248.5px,#fa0f00 249.5px,#ff1a00 250.5px,#ff1a00 258.5px,#ff2200 261.5px,#ff2500 292.5px,#ff2500 337.5px,#ff2d00 390.5px,#ff4a00 402.0px,#ff6400 413.5px,#ff8200 433.0px,#ff9f00 452.5px,#ffc100 467.5px,#ffe600 482.5px,#e4ff13 492.5px,#beff39 502.5px,#9aff5d 514.5px,#83ff73 520.5px,#70ff87 526.5px,#53ffa4 539.0px,#39ffbe 551.5px,#26ffd1 556.5px,#0cf4eb 559.5px)"></div>
<div style="top:391px;height:1px;background:linear-gradient(90deg,#ff2500 0.5px,#ff4a00 21.5px,#ff5d00 43.5px,#ff5900 110.5px,#ff3b00 138.5px,#ff3000 146.5px,#ff2d00 167.5px,#ff1e00 173.5px,#ff2d00 178.5px,#ff3000 200.5px,#ff3000 246.5px,#ff2200 247.5px,#f10800 248.5px,#ff1600 249.5px,#ff2200 250.5px,#ff2500 258.5px,#ff2d00 261.5px,#ff3000 292.5px,#ff2d00 337.5px,#ff3800 391.5px,#ff5500 405.5px,#ff6c00 419.5px,#ff8600 436.0px,#ff9f00 452.5px,#ffc100 467.5px,#ffe600 482.5px,#e4ff13 492.5px,#beff39 502.5px,#9aff5d 514.5px,#83ff73 520.5px,#70ff87 526.5px,#53ffa4 539.0px,#39ffbe 551.5px,#26ffd1 556.5px,#0cf4eb 559.5px)"></div>
<div style="top:392px;height:2px;background:linear-gradient(90deg,#ff2500 0.5px,#ff4a00 21.5px,#ff5d00 43.5px,#ff5900 112.5px,#ff4e00 136.5px,#ff3b00 146.5px,#ff3800 167.5px,#ff2900 173.5px,#ff3800 178.5px,#ff3b00 200.5px,#ff3b00 246.5px,#ff2d00 247.5px,#ff1300 248.5px,#ff2200 249.5px,#ff2d00 250.5px,#ff3000 258.5px,#ff3800 261.5px,#ff3b00 292.5px,#ff3800 337.5px,#ff4300 392.5px,#ff6000 412.5px,#ff8200 432.5px,#ff9f00 452.5px,#ffc100 467.5px,#ffe600 482.5px,#e4ff13 492.5px,#beff39 502.5px,#9aff5d 514.5px,#83ff73 520.5px,#70ff87 526.5px,#53ffa4 539.0px,#39ffbe 551.5px,#26ffd1 556.5px,#0cf4eb 559.5px)"></div>
<div style="top:394px;height:17px;background:linear-gradient(90deg,#ff2500 0.5px,#ff4a00 21.5px,#ff5d00 43.5px,#ff5d00 108.5px,#ff6000 115.5px,#ff5500 136.5px,#ff4700 146.5px,#ff4300 167.5px,#ff3000 173.5px,#ff4300 178.5px,#ff4700 200.5px,#ff4300 246.5px,#ff3400 247.5px,#ff1a00 248.5px,#ff2d00 249.5px,#ff3800 250.5px,#ff3b00 258.5px,#ff4300 261.5px,#ff4300 292.5px,#ff4300 337.5px,#ff4a00 392.5px,#ff7300 418.5px,#ff7700 426.5px,#ff9f00 452.5px,#ffc100 467.5px,#ffe600 482.5px,#e4ff13 492.5px,#beff39 502.5px,#9aff5d 514.5px,#83ff73 520.5px,#70ff87 526.5px,#53ffa4 539.0px,#39ffbe 551.5px,#26ffd1 556.5px,#0cf4eb 559.5px)"></div>
<div style="top:411px;height:3px;background:linear-gradient(90deg,#ff2500 0.5px,#ff4e00 21.5px,#ff5d00 43.5px,#ff5900 112.5px,#ff4e00 136.5px,#ff3b00 146.5px,#ff3800 167.5px,#ff2900 173.5px,#ff3800 178.5px,#ff3b00 200.5px,#ff3b00 246.5px,#ff2d00 247.5px,#ff1300 248.5px,#ff2200 249.5px,#ff2d00 250.5px,#ff3000 258.5px,#ff3800 261.5px,#ff3b00 292.5px,#ff3800 337.5px,#ff4300 392.5px,#ff6000 412.5px,#ff8200 432.5px,#ff9f00 452.5px,#ffc100 467.5px,#ffe600 482.5px,#e4ff13 492.5px,#beff39 502.5px,#9aff5d 514.5px,#83ff73 520.5px,#70ff87 526.5px,#53ffa4 539.0px,#39ffbe 551.5px,#26ffd1 556.5px,#0cf4eb 559.5px)"></div>
<div style="top:414px;height:13px;background:linear-gradient(90deg,#ff2500 0.5px,#ff4e00 21.5px,#ff5d00 43.5px,#ff5d00 112.5px,#ff5200 131.5px,#ff4700 139.5px,#ff3400 154.5px,#ff2d00 167.5px,#ff1e00 173.5px,#ff2d00 178.5px,#ff3800 199.5px,#ff3b00 207.5px,#ff3b00 246.5px,#ff2d00 247.5px,#ff1300 248.5px,#ff2200 249.5px,#ff2d00 250.5px,#ff3000 258.5px,#ff3800 261.5px,#ff3b00 292.5px,#ff3800 337.5px,#ff4300 392.5px,#ff6000 412.5px,#ff8200 432.5px,#ff9f00 452.5px,#ffc100 467.5px,#ffe600 482.5px,#e4ff13 492.5px,#beff39 502.5px,#9aff5d 514.5px,#83ff73 520.5px,#70ff87 526.5px,#53ffa4 539.0px,#39ffbe 551.5px,#26ffd1 556.5px,#0cf4eb 559.5px)"></div>
<div style="top:427px;height:4px;background:linear-gradient(90deg,#ff2500 0.5px,#ff4e00 21.5px,#ff5d00 43.5px,#ff5d00 112.5px,#ff4700 135.5px,#ff3000 145.5px,#ff2900 156.5px,#ff2200 168.5px,#ff1300 172.5px,#ff1a00 175.5px,#ff2500 181.5px,#ff2900 198.5px,#ff3000 206.5px,#ff3000 246.5px,#ff2200 247.5px,#f10800 248.5px,#ff1600 249.5px,#ff2200 250.5px,#ff2500 258.5px,#ff2d00 261.5px,#ff3000 292.5px,#ff2d00 337.5px,#ff3800 392.5px,#ff5500 407.5px,#ff6f00 422.5px,#ff9f00 452.5px,#ffc100 467.5px,#ffe600 482.5px,#e4ff13 492.5px,#beff39 502.5px,#9aff5d 514.5px,#83ff73 520.5px,#70ff87 526.5px,#53ffa4 539.0px,#39ffbe 551.5px,#26ffd1 556.5px,#0cf4eb 559.5px)"></div>
<div style="top:431px;height:6px;background:linear-gradient(90deg,#ff2500 0.5px,#ff4e00 21.5px,#ff5d00 43.5px,#ff5d00 112.5px,#ff4700 136.5px,#ff3000 145.5px,#ff2d00 167.5px,#ff1e00 173.5px,#ff2d00 178.5px,#ff3000 200.5px,#ff3000 246.5px,#ff2200 247.5px,#f10800 248.5px,#ff1600 249.5px,#ff2200 250.5px,#ff2500 258.5px,#ff2d00 261.5px,#ff3000 292.5px,#ff2d00 337.5px,#ff3800 392.5px,#ff5500 407.5px,#ff6f00 422.5px,#ff9f00 452.5px,#ffc100 467.5px,#ffe600 482.5px,#e4ff13 492.5px,#beff39 502.5px,#9aff5d 514.5px,#83ff73 520.5px,#70ff87 526.5px,#53ffa4 539.0px,#39ffbe 551.5px,#26ffd1 556.5px,#0cf4eb 559.5px)"></div>
<div style="top:437px;height:3px;background:linear-gradient(90deg,#ff2500 0.5px,#ff4e00 21.5px,#ff6000 43.5px,#ff5d00 112.5px,#ff5200 127.5px,#ff4a00 137.5px,#ff3b00 146.5px,#ff3800 167.5px,#ff2900 173.5px,#ff3800 178.5px,#ff3b00 200.5px,#ff3b00 246.5px,#ff2d00 247.5px,#ff1300 248.5px,#ff2200 249.5px,#ff2d00 250.5px,#ff3000 258.5px,#ff3800 261.5px,#ff3b00 292.5px,#ff3800 337.5px,#ff4300 392.5px,#ff6000 412.5px,#ff8200 432.5px,#ff9f00 452.5px,#ffc100 467.5px,#ffe600 482.5px,#e4ff13 492.5px,#beff39 502.5px,#9aff5d 514.5px,#83ff73 520.5px,#70ff87 526.5px,#53ffa4 539.0px,#39ffbe 551.5px,#26ffd1 556.5px,#0cf4eb 559.5px)"></div>
<div style="top:440px;height:18px;background:linear-gradient(90deg,#ff2500 0.5px,#ff4e00 21.5px,#ff6000 43.5px,#ff6000 110.5px,#ff5500 136.5px,#ff4300 146.5px,#ff3f00 167.5px,#ff3000 173.5px,#ff3f00 178.5px,#ff4300 200.5px,#ff4300 246.5px,#ff3400 247.5px,#ff1a00 248.5px,#ff2900 249.5px,#ff3400 250.5px,#ff3800 258.5px,#ff3f00 261.5px,#ff4300 292.5px,#ff3f00 337.5px,#ff4a00 392.5px,#ff6f00 415.5px,#ff9100 438.5px,#ff9800 449.5px,#ffb200 460.5px,#ffcc00 471.5px,#ffe600 482.5px,#e4ff13 492.5px,#beff39 502.5px,#9aff5d 514.5px,#83ff73 520.5px,#70ff87 526.5px,#53ffa4 539.0px,#39ffbe 551.5px,#26ffd1 556.5px,#0cf4eb 559.5px)"></div>
<div style="top:458px;height:4px;background:linear-gradient(90deg,#ff2500 0.5px,#ff4e00 21.5px,#ff6000 43.5px,#ff6400 110.5px,#ff5500 134.5px,#ff3b00 144.5px,#ff3800 167.5px,#ff2900 173.5px,#ff3800 178.5px,#ff3b00 200.5px,#ff3b00 246.5px,#ff2d00 247.5px,#ff1300 248.5px,#ff2200 249.5px,#ff2d00 250.5px,#ff3000 258.5px,#ff3800 261.5px,#ff3b00 292.5px,#ff3800 337.5px,#ff4300 392.5px,#ff6f00 419.5px,#ff8200 427.5px,#ff9100 439.5px,#ff9800 449.5px,#ffb200 460.5px,#ffcc00 471.5px,#ffe600 482.5px,#e4ff13 492.5px,#beff39 502.5px,#9aff5d 514.5px,#83ff73 520.5px,#70ff87 526.5px,#53ffa4 539.0px,#39ffbe 551.5px,#26ffd1 556.5px,#0cf4eb 559.5px)"></div>
<div style="top:462px;height:18px;background:linear-gradient(90deg,#ff2500 0.5px,#ff5200 22.5px,#ff6000 43.5px,#ff6400 110.5px,#ff5500 136.5px,#ff4300 146.5px,#ff3f00 167.5px,#ff3000 173.5px,#ff3f00 178.5px,#ff4300 200.5px,#ff4300 246.5px,#ff3400 247.5px,#ff1a00 248.5px,#ff2900 249.5px,#ff3400 250.5px,#ff3800 258.5px,#ff3f00 261.5px,#ff4300 292.5px,#ff3f00 337.5px,#ff4a00 392.5px,#ff6f00 415.5px,#ff9100 438.5px,#ff9800 449.5px,#ffb200 460.5px,#ffcc00 471.5px,#ffe600 482.5px,#e4ff13 492.5px,#beff39 502.5px,#9aff5d 514.5px,#83ff73 520.5px,#70ff87 526.5px,#53ffa4 539.0px,#39ffbe 551.5px,#26ffd1 556.5px,#0cf4eb 559.5px)"></div>
</div>
<svg width="800" height="600" viewBox="0 0 800 600">
<defs>
<linearGradient id="cb" x1="0" x2="0" y1="0" y2="1"><stop offset="0.0000" stop-color="#800000"/><stop offset="0.0250" stop-color="#9b0000"/><stop offset="0.0500" stop-color="#b60000"/><stop offset="0.0750" stop-color="#d60000"/><stop offset="0.1000" stop-color="#f10800"/><stop offset="0.1250" stop-color="#ff1e00"/><stop offset="0.1500" stop-color="#ff3800"/><stop offset="0.1750" stop-color="#ff4e00"/><stop offset="0.2000" stop-color="#ff6800"/><stop offset="0.2250" stop-color="#ff7e00"/><stop offset="0.2500" stop-color="#ff9400"/><stop offset="0.2750" stop-color="#ffae00"/><stop offset="0.3000" stop-color="#ffc400"/><stop offset="0.3250" stop-color="#ffde00"/><stop offset="0.3500" stop-color="#f8f500"/><stop offset="0.3750" stop-color="#e4ff13"/><stop offset="0.4000" stop-color="#ceff29"/><stop offset="0.4250" stop-color="#baff3c"/><stop offset="0.4500" stop-color="#a4ff53"/><stop offset="0.4750" stop-color="#90ff66"/><stop offset="0.5000" stop-color="#7dff7a"/><stop offset="0.5250" stop-color="#66ff90"/><stop offset="0.5500" stop-color="#53ffa4"/><stop offset="0.5750" stop-color="#3cffba"/><stop offset="0.6000" stop-color="#29ffce"/><stop offset="0.6250" stop-color="#16ffe1"/><stop offset="0.6500" stop-color="#00e4f8"/><stop offset="0.6750" stop-color="#00ccff"/><stop offset="0.7000" stop-color="#00b0ff"/><stop offset="0.7250" stop-color="#0098ff"/><stop offset="0.7500" stop-color="#0080ff"/><stop offset="0.7750" stop-color="#0064ff"/><stop offset="0.8000" stop-color="#004cff"/><stop offset="0.8250" stop-color="#0030ff"/><stop offset="0.8500" stop-color="#0018ff"/><stop offset="0.8750" stop-color="#0000ff"/><stop offset="0.9000" stop-color="#0000f1"/><stop offset="0.9250" stop-color="#0000d6"/><stop offset="0.9500" stop-color="#0000b6"/><stop offset="0.9750" stop-color="#00009b"/><stop offset="1.0000" stop-color="#000080"/></linearGradient>
<linearGradient id="gTop" x1="0" x2="1" y1="0" y2="0"><stop offset="0.0000" stop-color="#ff2500"/><stop offset="0.0071" stop-color="#ff4e00"/><stop offset="0.0357" stop-color="#ff5500"/><stop offset="0.1071" stop-color="#ff5900"/><stop offset="0.1875" stop-color="#ff5500"/><stop offset="0.2000" stop-color="#ff3f00"/><stop offset="0.2143" stop-color="#ff2900"/><stop offset="0.2857" stop-color="#ff2900"/><stop offset="0.3036" stop-color="#ff1a00"/><stop offset="0.3125" stop-color="#ed0400"/><stop offset="0.3214" stop-color="#ff1a00"/><stop offset="0.3482" stop-color="#ff2900"/><stop offset="0.3929" stop-color="#ff2500"/><stop offset="0.4643" stop-color="#ff2500"/><stop offset="0.5000" stop-color="#ff2d00"/><stop offset="0.6071" stop-color="#ff2d00"/><stop offset="0.6286" stop-color="#ff1600"/><stop offset="0.6964" stop-color="#f60b00"/><stop offset="0.7500" stop-color="#f60b00"/><stop offset="0.7768" stop-color="#ff1600"/><stop offset="0.7946" stop-color="#ff3f00"/><stop offset="0.8125" stop-color="#ff6800"/><stop offset="0.8571" stop-color="#ff8d00"/><stop offset="0.8929" stop-color="#ffb200"/><stop offset="0.9286" stop-color="#ffe200"/><stop offset="0.9554" stop-color="#d7ff1f"/><stop offset="0.9786" stop-color="#a4ff53"/><stop offset="1.0000" stop-color="#6aff8d"/></linearGradient>
<linearGradient id="gBot" x1="0" x2="1" y1="0" y2="0"><stop offset="0.0000" stop-color="#ff3800"/><stop offset="0.0071" stop-color="#ff5d00"/><stop offset="0.0357" stop-color="#ff6000"/><stop offset="0.1071" stop-color="#ff6800"/><stop offset="0.1964" stop-color="#ff6000"/><stop offset="0.2143" stop-color="#ff4a00"/><stop offset="0.3036" stop-color="#ff3b00"/><stop offset="0.3929" stop-color="#ff3800"/><stop offset="0.4643" stop-color="#ff3400"/><stop offset="0.5714" stop-color="#ff3800"/><stop offset="0.6786" stop-color="#ff3b00"/><stop offset="0.7500" stop-color="#ff5500"/><stop offset="0.7857" stop-color="#ff7a00"/><stop offset="0.8304" stop-color="#ffb200"/><stop offset="0.8839" stop-color="#f8f500"/><stop offset="0.9286" stop-color="#adff49"/><stop offset="0.9643" stop-color="#7dff7a"/><stop offset="1.0000" stop-color="#39ffbe"/></linearGradient>
</defs>

<line x1="192.5" y1="540" x2="192.5" y2="60" stroke="#000" stroke-width="1" stroke-dasharray="1.39,4.17" stroke-dashoffset="0.7"/><line x1="304.5" y1="540" x2="304.5" y2="60" stroke="#000" stroke-width="1" stroke-dasharray="1.39,4.17" stroke-dashoffset="0.7"/><line x1="416.5" y1="540" x2="416.5" y2="60" stroke="#000" stroke-width="1" stroke-dasharray="1.39,4.17" stroke-dashoffset="0.7"/><line x1="528.5" y1="540" x2="528.5" y2="60" stroke="#000" stroke-width="1" stroke-dasharray="1.39,4.17" stroke-dashoffset="0.7"/><line x1="80" y1="139.5" x2="640" y2="139.5" stroke="#000" stroke-width="1" stroke-dasharray="1.39,4.17" stroke-dashoffset="-0.7"/><line x1="80" y1="221.5" x2="640" y2="221.5" stroke="#000" stroke-width="1" stroke-dasharray="1.39,4.17" stroke-dashoffset="-0.7"/><line x1="80" y1="304.5" x2="640" y2="304.5" stroke="#000" stroke-width="1" stroke-dasharray="1.39,4.17" stroke-dashoffset="-0.7"/><line x1="80" y1="387.5" x2="640" y2="387.5" stroke="#000" stroke-width="1" stroke-dasharray="1.39,4.17" stroke-dashoffset="-0.7"/><line x1="80" y1="470.5" x2="640" y2="470.5" stroke="#000" stroke-width="1" stroke-dasharray="1.39,4.17" stroke-dashoffset="-0.7"/>
<line x1="192.5" y1="540" x2="192.5" y2="534" stroke="#000"/><line x1="192.5" y1="60" x2="192.5" y2="66" stroke="#000"/><line x1="304.5" y1="540" x2="304.5" y2="534" stroke="#000"/><line x1="304.5" y1="60" x2="304.5" y2="66" stroke="#000"/><line x1="416.5" y1="540" x2="416.5" y2="534" stroke="#000"/><line x1="416.5" y1="60" x2="416.5" y2="66" stroke="#000"/><line x1="528.5" y1="540" x2="528.5" y2="534" stroke="#000"/><line x1="528.5" y1="60" x2="528.5" y2="66" stroke="#000"/><line x1="80" y1="139.5" x2="86" y2="139.5" stroke="#000"/><line x1="641" y1="139.5" x2="634" y2="139.5" stroke="#000"/><line x1="80" y1="221.5" x2="86" y2="221.5" stroke="#000"/><line x1="641" y1="221.5" x2="634" y2="221.5" stroke="#000"/><line x1="80" y1="304.5" x2="86" y2="304.5" stroke="#000"/><line x1="641" y1="304.5" x2="634" y2="304.5" stroke="#000"/><line x1="80" y1="387.5" x2="86" y2="387.5" stroke="#000"/><line x1="641" y1="387.5" x2="634" y2="387.5" stroke="#000"/><line x1="80" y1="470.5" x2="86" y2="470.5" stroke="#000"/><line x1="641" y1="470.5" x2="634" y2="470.5" stroke="#000"/>
<rect x="80.5" y="60.5" width="560" height="480" fill="none" stroke="#000" stroke-width="1"/>
<rect x="664" y="60" width="25" height="481" fill="url(#cb)"/>
<line x1="682.5" y1="60.5" x2="689" y2="60.5" stroke="#000"/><line x1="682.5" y1="108.5" x2="689" y2="108.5" stroke="#000"/><line x1="682.5" y1="156.5" x2="689" y2="156.5" stroke="#000"/><line x1="682.5" y1="204.5" x2="689" y2="204.5" stroke="#000"/><line x1="682.5" y1="252.5" x2="689" y2="252.5" stroke="#000"/><line x1="682.5" y1="300.5" x2="689" y2="300.5" stroke="#000"/><line x1="682.5" y1="348.5" x2="689" y2="348.5" stroke="#000"/><line x1="682.5" y1="396.5" x2="689" y2="396.5" stroke="#000"/><line x1="682.5" y1="444.5" x2="689" y2="444.5" stroke="#000"/><line x1="682.5" y1="492.5" x2="689" y2="492.5" stroke="#000"/><line x1="682.5" y1="540.5" x2="689" y2="540.5" stroke="#000"/>
<rect x="664.5" y="60.5" width="24" height="480" fill="none" stroke="#000" stroke-width="1"/>
<text x="226" y="53" style="font-size:20.5px" textLength="269" lengthAdjust="spacingAndGlyphs">BW MSBB E?Z: 2017-04-05</text>
<text x="55.5" y="144" textLength="18.5" lengthAdjust="spacingAndGlyphs">19</text><text x="55.5" y="227" textLength="18.5" lengthAdjust="spacingAndGlyphs">20</text><text x="55.5" y="310" textLength="18.5" lengthAdjust="spacingAndGlyphs">21</text><text x="55.5" y="392" textLength="18.5" lengthAdjust="spacingAndGlyphs">22</text><text x="55.5" y="475" textLength="18.5" lengthAdjust="spacingAndGlyphs">23</text>
<text x="181.7" y="557" textLength="19.5" lengthAdjust="spacingAndGlyphs">10</text><text x="293.7" y="557" textLength="19.5" lengthAdjust="spacingAndGlyphs">20</text><text x="405.7" y="557" textLength="19.5" lengthAdjust="spacingAndGlyphs">30</text><text x="517.7" y="557" textLength="19.5" lengthAdjust="spacingAndGlyphs">40</text><text x="629.7" y="557" textLength="19.5" lengthAdjust="spacingAndGlyphs">50</text>
<text x="692.5" y="66" textLength="23.5" lengthAdjust="spacingAndGlyphs">−4</text><text x="692.5" y="114" textLength="23.5" lengthAdjust="spacingAndGlyphs">−5</text><text x="692.5" y="162" textLength="23.5" lengthAdjust="spacingAndGlyphs">−6</text><text x="692.5" y="210" textLength="23.5" lengthAdjust="spacingAndGlyphs">−7</text><text x="692.5" y="258" textLength="23.5" lengthAdjust="spacingAndGlyphs">−8</text><text x="692.5" y="306" textLength="23.5" lengthAdjust="spacingAndGlyphs">−9</text><text x="692.5" y="354" textLength="34.5" lengthAdjust="spacingAndGlyphs">−10</text><text x="692.5" y="402" textLength="34.5" lengthAdjust="spacingAndGlyphs">−11</text><text x="692.5" y="450" textLength="34.5" lengthAdjust="spacingAndGlyphs">−12</text><text x="692.5" y="498" textLength="34.5" lengthAdjust="spacingAndGlyphs">−13</text><text x="692.5" y="546" textLength="34.5" lengthAdjust="spacingAndGlyphs">−14</text>
<text x="297" y="576" textLength="126" lengthAdjust="spacingAndGlyphs">Frequency [Hz]</text>
<text transform="translate(45,411) rotate(-90)" textLength="223" lengthAdjust="spacingAndGlyphs">Lokalzeit (UTC + 2 Stunde)</text>
<text transform="translate(744,412) rotate(-90)" textLength="221" lengthAdjust="spacingAndGlyphs">Log10(Sqrt(m**2/s**2/Hz))</text>
</svg>
</body></html>
